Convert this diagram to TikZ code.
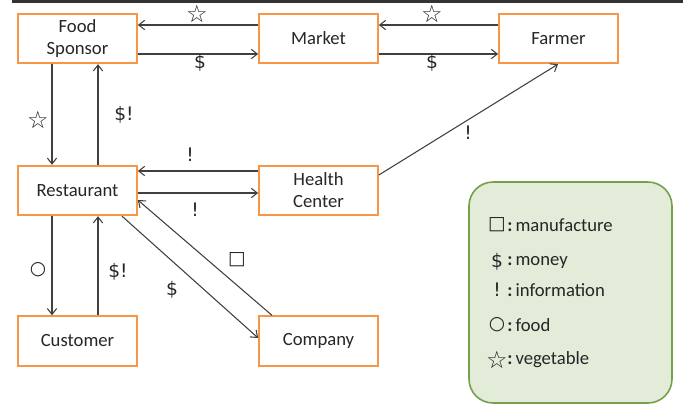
\documentclass[tikz,border=0pt]{standalone}
\usepackage{fontspec}
\setmainfont{Carlito}
\newfontfamily\symfont{DejaVu Sans}
\usetikzlibrary{arrows.meta}
\definecolor{boxorange}{HTML}{F79646}
\definecolor{flowgray}{HTML}{404040}
\definecolor{legendfill}{HTML}{E3EBD9}
\definecolor{legenddraw}{HTML}{77A04B}
\begin{document}
\begin{tikzpicture}[x=0.75pt,y=-0.75pt,
  every node/.style={font=\fontsize{14}{16.5}\selectfont,text=black!85},
  box/.style={draw=boxorange,line width=1.5pt,minimum width=89pt,minimum height=37pt,inner sep=1pt,align=center},
  flow/.style={-{Straight Barb[length=4.5pt,width=7pt]},flowgray,line width=0.8pt},
  sym/.style={font=\symfont\fontsize{14}{14}\selectfont,inner sep=0pt},
  star/.style={font=\symfont\fontsize{18}{18}\selectfont,inner sep=0pt}]
  \useasboundingbox (0,0) rectangle (683,405);
  \fill[black!80] (12,0) rectangle (683,2.5);
  % actors
  \node[box] (fs)   at (77.5,38.5)   {Food\\Sponsor};
  \node[box] (mkt)  at (318.5,38.5)  {Market};
  \node[box] (farm) at (558.5,38.5)  {Farmer};
  \node[box] (rest) at (77.5,190.5)  {Restaurant};
  \node[box] (hc)   at (318.5,190.5) {Health\\Center};
  \node[box] (cust) at (77.5,341)    {Customer};
  \node[box] (comp) at (318.5,341)   {Company};
  % flows
  \draw[flow] (mkt.west |- 0,25) -- (fs.east |- 0,25);
  \draw[flow] (fs.east |- 0,54) -- (mkt.west |- 0,54);
  \draw[flow] (farm.west |- 0,25) -- (mkt.east |- 0,25);
  \draw[flow] (mkt.east |- 0,54) -- (farm.west |- 0,54);
  \draw[flow] (fs.south -| 52,0) -- (rest.north -| 52,0);
  \draw[flow] (rest.north -| 98,0) -- (fs.south -| 98,0);
  \draw[flow] (hc.west |- 0,171) -- (rest.east |- 0,171);
  \draw[flow] (rest.east |- 0,193) -- (hc.west |- 0,193);
  \draw[flow] (hc.east |- 0,175) -- (farm.south -| 558,0);
  \draw[flow] (rest.south -| 52,0) -- (cust.north -| 52,0);
  \draw[flow] (cust.north -| 98,0) -- (rest.south -| 98,0);
  \draw[flow] (rest.south -| 122,0) -- (comp.west |- 0,338);
  \draw[flow] (comp.north -| 272,0) -- (rest.east |- 0,200);
  % what flows
  \node[star] (vegA) at (197,14)  {☆};
  \node[star] (vegB) at (432,14)  {☆};
  \node[sym]  (monA) at (200,63)  {\$};
  \node[sym]  (monB) at (432,63)  {\$};
  \node[star] (vegC) at (38,120)  {☆};
  \node[sym]  (monC) at (124,115) {\$!};
  \node[sym]  (infA) at (190,155) {!};
  \node[sym]  (infB) at (195,210) {!};
  \node[sym]  (infC) at (468,133) {!};
  \node[sym]  (fod)  at (38,270)  {○};
  \node[sym]  (monD) at (118,272) {\$!};
  \node[sym]  (monE) at (172,290) {\$};
  \node[sym]  (man)  at (237,260) {□};
  % legend
  \draw[legenddraw,fill=legendfill,line width=1.2pt,rounded corners=18pt] (469,182) rectangle (672,403);
  \node[sym]  (kMan) at (497,225) {□};
  \node[sym]  (kMon) at (497,262) {\$};
  \node[sym]  (kInf) at (497,290) {!};
  \node[sym]  (kFod) at (497,325) {○};
  \node[star] (kVeg) at (497,360) {☆};
  \node[anchor=west,inner sep=0pt] (tMan) at (507,225) {\textbf{:}\,manufacture};
  \node[anchor=west,inner sep=0pt] (tMon) at (507,262) {\textbf{:}\,money};
  \node[anchor=west,inner sep=0pt] (tInf) at (507,290) {\textbf{:}\,information};
  \node[anchor=west,inner sep=0pt] (tFod) at (507,325) {\textbf{:}\,food};
  \node[anchor=west,inner sep=0pt] (tVeg) at (507,360) {\textbf{:}\,vegetable};
\end{tikzpicture}
\end{document}
